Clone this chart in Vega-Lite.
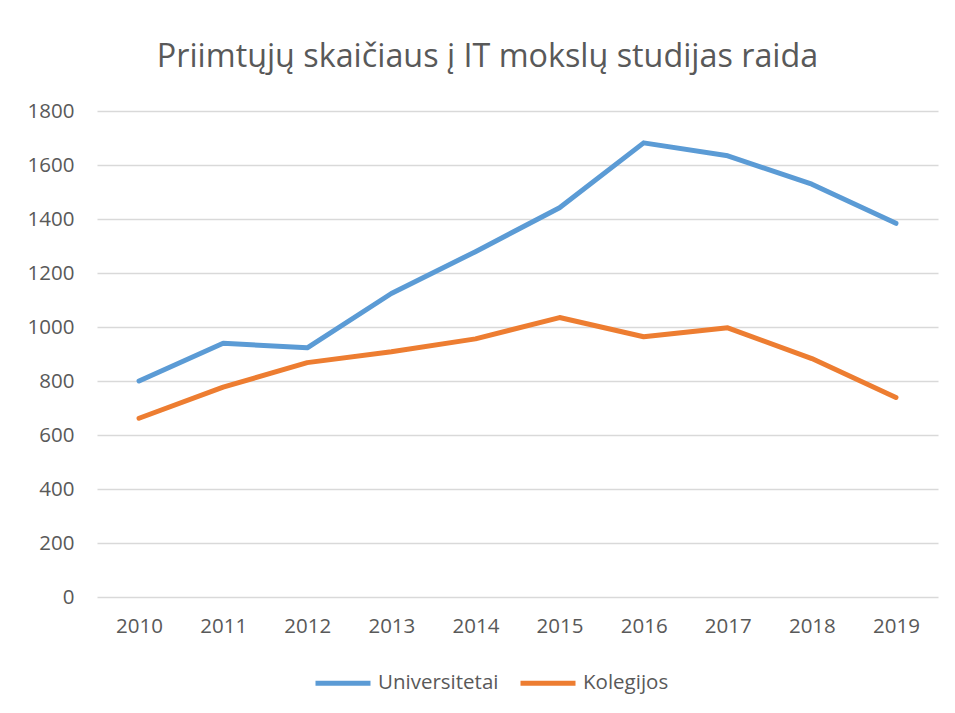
{
  "$schema": "https://vega.github.io/schema/vega-lite/v6.json",
  "width": 841,
  "height": 486,
  "autosize": {"type": "none"},
  "padding": {"left": 97, "top": 111, "right": 17, "bottom": 116},
  "background": "white",
  "title": {
    "text": "Priimtųjų skaičiaus į IT mokslų studijas raida",
    "font": "Open Sans",
    "fontSize": 32.3,
    "fontWeight": "normal",
    "color": "#595959",
    "anchor": "middle",
    "dx": -30,
    "offset": 28
  },
  "data": {
    "values": [
      {"year": "2010", "series": "Universitetai", "value": 800},
      {"year": "2011", "series": "Universitetai", "value": 940},
      {"year": "2012", "series": "Universitetai", "value": 923},
      {"year": "2013", "series": "Universitetai", "value": 1124},
      {"year": "2014", "series": "Universitetai", "value": 1279},
      {"year": "2015", "series": "Universitetai", "value": 1442},
      {"year": "2016", "series": "Universitetai", "value": 1682},
      {"year": "2017", "series": "Universitetai", "value": 1634},
      {"year": "2018", "series": "Universitetai", "value": 1529},
      {"year": "2019", "series": "Universitetai", "value": 1384},
      {"year": "2010", "series": "Kolegijos", "value": 662},
      {"year": "2011", "series": "Kolegijos", "value": 777},
      {"year": "2012", "series": "Kolegijos", "value": 868},
      {"year": "2013", "series": "Kolegijos", "value": 908},
      {"year": "2014", "series": "Kolegijos", "value": 956},
      {"year": "2015", "series": "Kolegijos", "value": 1035},
      {"year": "2016", "series": "Kolegijos", "value": 964},
      {"year": "2017", "series": "Kolegijos", "value": 997},
      {"year": "2018", "series": "Kolegijos", "value": 883},
      {"year": "2019", "series": "Kolegijos", "value": 739}
    ]
  },
  "mark": {"type": "line", "strokeWidth": 5, "strokeCap": "round", "strokeJoin": "round"},
  "encoding": {
    "x": {
      "field": "year",
      "type": "ordinal",
      "scale": {"type": "point", "padding": 0.5},
      "axis": {
        "title": null,
        "labelAngle": 0,
        "domain": false,
        "ticks": false,
        "tickSize": 0,
        "labelPadding": 19,
        "labelFont": "Open Sans",
        "labelFontSize": 20.5,
        "labelColor": "#595959"
      }
    },
    "y": {
      "field": "value",
      "type": "quantitative",
      "scale": {"domain": [0, 1800]},
      "axis": {
        "title": null,
        "values": [0, 200, 400, 600, 800, 1000, 1200, 1400, 1600, 1800],
        "format": "d",
        "domain": false,
        "ticks": false,
        "tickSize": 0,
        "labelPadding": 23,
        "labelFont": "Open Sans",
        "labelFontSize": 20.5,
        "labelColor": "#595959",
        "gridColor": "#D9D9D9",
        "gridWidth": 1.5
      }
    },
    "color": {
      "field": "series",
      "type": "nominal",
      "scale": {"domain": ["Universitetai", "Kolegijos"], "range": ["#5B9BD5", "#ED7D31"]},
      "legend": {
        "title": null,
        "orient": "none",
        "direction": "horizontal",
        "legendX": 216,
        "legendY": 542,
        "symbolType": "stroke",
        "symbolSize": 3025,
        "symbolStrokeWidth": 5,
        "labelFont": "Open Sans",
        "labelFontSize": 20.5,
        "labelColor": "#595959",
        "labelOffset": 5,
        "columnPadding": 11
      }
    }
  },
  "config": {"view": {"stroke": null}}
}
